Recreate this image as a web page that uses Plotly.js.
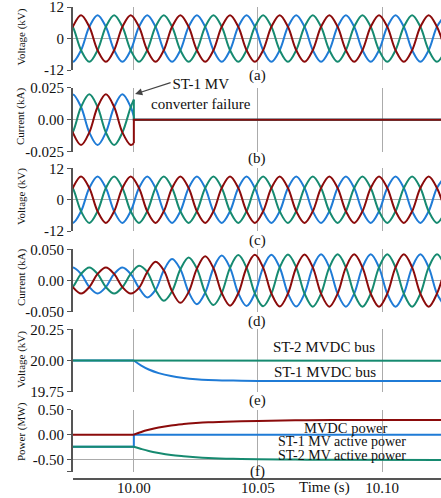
<!DOCTYPE html>
<html>
<head>
<meta charset="utf-8">
<script src="https://cdn.plot.ly/plotly-3.0.1.min.js"></script>
<style>html,body{margin:0;padding:0;background:#fff;}#chart{width:441px;height:498px;}</style>
</head>
<body>
<div id="chart"></div>
<script>
// ---- time grid (s) ----
const tGrid = [9.97207, 9.97540, 9.97874, 9.98207, 9.98540, 9.98874, 9.99207, 9.99540, 9.99874,
  10.00207, 10.00540, 10.00874, 10.01207, 10.01540, 10.01874, 10.02207, 10.02540, 10.02874,
  10.03207, 10.03540, 10.03874, 10.04207, 10.04540, 10.04874, 10.05207, 10.05540, 10.05874,
  10.06207, 10.06540, 10.06874, 10.07207, 10.07540, 10.07874, 10.08207, 10.08540, 10.08874,
  10.09207, 10.09540, 10.09874, 10.10207, 10.10540, 10.10874, 10.11207, 10.11540, 10.11874,
  10.12207, 10.12540];

// ---- (a)/(c) MV voltage (kV) ----
const vRed = [-4.45,4.45,8.9,4.45,-4.45,-8.9, -4.45,4.45,8.9,4.45,-4.45,-8.9, -4.45,4.45,8.9,4.45,-4.45,-8.9,
  -4.45,4.45,8.9,4.45,-4.45,-8.9, -4.45,4.45,8.9,4.45,-4.45,-8.9, -4.45,4.45,8.9,4.45,-4.45,-8.9,
  -4.45,4.45,8.9,4.45,-4.45,-8.9, -4.45,4.45,8.9,4.45,-4.45];
const vBlue = [-4.45,-8.9,-4.45,4.45,8.9,4.45, -4.45,-8.9,-4.45,4.45,8.9,4.45, -4.45,-8.9,-4.45,4.45,8.9,4.45,
  -4.45,-8.9,-4.45,4.45,8.9,4.45, -4.45,-8.9,-4.45,4.45,8.9,4.45, -4.45,-8.9,-4.45,4.45,8.9,4.45,
  -4.45,-8.9,-4.45,4.45,8.9,4.45, -4.45,-8.9,-4.45,4.45,8.9];
const vGreen = [8.9,4.45,-4.45,-8.9,-4.45,4.45, 8.9,4.45,-4.45,-8.9,-4.45,4.45, 8.9,4.45,-4.45,-8.9,-4.45,4.45,
  8.9,4.45,-4.45,-8.9,-4.45,4.45, 8.9,4.45,-4.45,-8.9,-4.45,4.45, 8.9,4.45,-4.45,-8.9,-4.45,4.45,
  8.9,4.45,-4.45,-8.9,-4.45,4.45, 8.9,4.45,-4.45,-8.9,-4.45];

// ---- (b) ST-1 MV current (kA), until failure ----
const tPre = [9.97207, 9.97540, 9.97874, 9.98207, 9.98540, 9.98874, 9.99207, 9.99540, 9.99874, 10.000];
const iBluePre  = [0.0099, 0.0198, 0.0099, -0.0099, -0.0198, -0.0099, 0.0099, 0.0198, 0.0099, 0.0025];
const iGreenPre = [-0.0198, -0.0099, 0.0099, 0.0198, 0.0099, -0.0099, -0.0198, -0.0099, 0.0099, 0.0157];
const iRedPre   = [0.0099, -0.0099, -0.0198, -0.0099, 0.0099, 0.0198, 0.0099, -0.0099, -0.0198, -0.0183];
const tPost = [10.000, 10.000, 10.1254];
const iBluePost  = [0.0025, 0, 0];
const iGreenPost = [0.0157, 0, 0];
const iRedPost   = [-0.0183, 0, 0];

// ---- (d) current (kA) ----
const dBlue = [0.0105,0.021,0.0105,-0.0105,-0.021,-0.0105,0.0105,0.021,0.0105,
  -0.0119,-0.0272,-0.0151,0.0163,0.0343,0.0179,-0.0185,-0.0380,-0.0194,0.0197,0.0399,0.0202,
  -0.0204,-0.0409,-0.0206,0.0207,0.0414,0.0208,-0.0208,-0.0417,-0.0209,0.0210,0.0419,0.0210,
  -0.0210,-0.0419,-0.0210,0.021,0.042,0.021,-0.021,-0.042,-0.021,0.021,0.042,0.021,-0.021,-0.042];
const dGreen = [-0.021,-0.0105,0.0105,0.021,0.0105,-0.0105,-0.021,-0.0105,0.0105,
  0.0237,0.0136,-0.0151,-0.0325,-0.0172,0.0179,0.0370,0.0190,-0.0194,-0.0394,-0.0200,0.0202,
  0.0407,0.0205,-0.0206,-0.0413,-0.0207,0.0208,0.0416,0.0209,-0.0209,-0.0419,-0.0210,0.0210,
  0.0419,0.0210,-0.0210,-0.042,-0.021,0.021,0.042,0.021,-0.021,-0.042,-0.021,0.021,0.042,0.021];
const dRed = [0.0105,-0.0105,-0.021,-0.0105,0.0105,0.021,0.0105,-0.0105,-0.021,
  -0.0119,0.0136,0.0301,0.0163,-0.0172,-0.0358,-0.0185,0.0190,0.0388,0.0197,-0.0200,-0.0403,
  -0.0204,0.0205,0.0411,0.0207,-0.0207,-0.0415,-0.0208,0.0209,0.0418,0.0210,-0.0210,-0.0419,
  -0.0210,0.0210,0.0419,0.021,-0.021,-0.042,-0.021,0.021,0.042,0.021,-0.021,-0.042,-0.021,0.021];

// ---- (e) MVDC bus voltage (kV) ----
const tE = [9.9755, 10.000, 10.003, 10.006, 10.010, 10.015, 10.020, 10.025, 10.030, 10.040, 10.050, 10.065, 10.1254];
const eST1 = [20.000, 20.000, 19.959, 19.928, 19.899, 19.875, 19.860, 19.850, 19.844, 19.839, 19.836, 19.835, 19.835];
const tE2 = [9.9755, 10.000, 10.1254];
const eST2 = [20.000, 20.000, 19.998];

// ---- (f) power (MW) ----
const tF = [9.9755, 10.000, 10.003, 10.006, 10.010, 10.015, 10.020, 10.025, 10.030, 10.040, 10.050, 10.065, 10.080, 10.1254];
const pMVDC = [0, 0, 0.055, 0.098, 0.145, 0.188, 0.215, 0.235, 0.250, 0.268, 0.279, 0.290, 0.296, 0.300];
const pST2  = [-0.245, -0.245, -0.29, -0.33, -0.37, -0.41, -0.435, -0.455, -0.47, -0.488, -0.498, -0.505, -0.51, -0.515];
const tF1 = [9.9755, 10.000, 10.000, 10.1254];
const pST1 = [-0.245, -0.245, 0, 0];

// ---- ticks ----
const xTicks = [10.00, 10.05, 10.10];
const xTickText = ["10.00", "10.05", "10.10"];

const RED = '#8b0b0b', BLUE = '#1f7bd6', GREEN = '#168a70';
const LW = 2;

function tr(x, y, k, color, shape) {
  return {x: x, y: y, xaxis: 'x' + (k === 1 ? '' : k), yaxis: 'y' + (k === 1 ? '' : k),
    type: 'scatter', mode: 'lines', line: {color: color, width: LW, shape: shape || 'linear'},
    hoverinfo: 'skip', showlegend: false};
}
// split a step response at the failure instant (index 1): flat part straight, transient smooth
function stepTr(x, y, k, color) {
  return [tr(x.slice(0, 2), y.slice(0, 2), k, color), tr(x.slice(1), y.slice(1), k, color, 'spline')];
}

const data = [
  tr(tGrid, vBlue, 1, BLUE, 'spline'), tr(tGrid, vGreen, 1, GREEN, 'spline'), tr(tGrid, vRed, 1, RED, 'spline'),
  tr(tPre, iBluePre, 2, BLUE, 'spline'), tr(tPre, iGreenPre, 2, GREEN, 'spline'), tr(tPre, iRedPre, 2, RED, 'spline'),
  tr(tPost, iBluePost, 2, BLUE), tr(tPost, iGreenPost, 2, GREEN), tr(tPost, iRedPost, 2, RED),
  tr(tGrid, vBlue, 3, BLUE, 'spline'), tr(tGrid, vGreen, 3, GREEN, 'spline'), tr(tGrid, vRed, 3, RED, 'spline'),
  tr(tGrid, dBlue, 4, BLUE, 'spline'), tr(tGrid, dGreen, 4, GREEN, 'spline'), tr(tGrid, dRed, 4, RED, 'spline'),
  ...stepTr(tE, eST1, 5, BLUE), tr(tE2, eST2, 5, GREEN),
  tr(tF1, pST1, 6, BLUE), ...stepTr(tF, pST2, 6, GREEN), ...stepTr(tF, pMVDC, 6, RED)
];

const XR = [9.9755, 10.1237];
const FONT = 'Liberation Serif, Times New Roman, serif';
const GRID = '#ababab', AX = '#555555';
const H = 471, T = 7;
function py(px) { return (T + H - px) / H; }

const domains = [[70, 7], [151.7, 87.7], [231, 168.3], [311.7, 249.3], [391.7, 329.3], [471.7, 409.5]];
const yRanges = [[-12, 12], [-0.025, 0.025], [-12, 12], [-0.05, 0.05], [19.75, 20.25], [-0.75, 0.51]];
const yTickVals = [[-12, 0, 12], [-0.025, 0, 0.025], [-12, 0, 12], [-0.05, 0, 0.05], [19.75, 20.0, 20.25], [-0.75, -0.5, 0, 0.5]];
const yTickText = [["-12", "0", "12"], ["-0.025", "0.00", "0.025"], ["-12", "0", "12"], ["-0.050", "0.00", "0.050"],
  ["19.75", "20.00", "20.25"], ["", "-0.50", "0.00", "0.50"]];
const yTitles = ["Voltage (kV)", "Current (kA)", "Voltage (kV)", "Current (kA)", "Voltage (kV)", "Power (MW)"];
const yTitlePx = [37.5, 117, 197, 278, 360, 432];
const panelLabels = ["(a)", "(b)", "(c)", "(d)", "(e)", "(f)"];
const panelLabelPx = [76, 158, 240, 321, 400.7, 471.7];

const layout = {
  width: 441, height: 498,
  margin: {l: 73, r: 0, t: T, b: 498 - T - H},
  paper_bgcolor: '#fff', plot_bgcolor: '#fff',
  showlegend: false, hovermode: false,
  font: {family: FONT, size: 15, color: '#111'},
  annotations: []
};

for (let k = 1; k <= 6; k++) {
  const sfx = k === 1 ? '' : String(k);
  const d = domains[k - 1];
  const xa = {
    range: XR, showgrid: true, gridcolor: GRID, gridwidth: 1, zeroline: false,
    tickmode: 'array', tickvals: xTicks, ticktext: xTickText, ticks: '',
    showticklabels: false, showline: false
  };
  if (k === 6) {
    Object.assign(xa, {anchor: 'free', position: 0, showticklabels: true, showline: true,
      linecolor: AX, linewidth: 1.5, ticklabelstandoff: -5, ticklabeloverflow: 'allow',
      tickfont: {family: FONT, size: 15, color: '#111'}});
  } else {
    xa.anchor = 'y' + sfx;
  }
  layout['xaxis' + sfx] = xa;
  layout['yaxis' + sfx] = {
    anchor: 'x' + sfx, domain: [py(d[0]), py(d[1])], range: yRanges[k - 1],
    tickmode: 'array', tickvals: yTickVals[k - 1], ticktext: yTickText[k - 1],
    showgrid: true, gridcolor: GRID, gridwidth: 1, zeroline: false,
    showline: true, linecolor: AX, linewidth: 2, ticks: 'outside', ticklen: 4, tickcolor: AX,
    ticklabeloverflow: 'allow',
    tickfont: {family: FONT, size: 15, color: '#111'}
  };
  layout.annotations.push({
    xref: 'paper', yref: 'paper', x: (21 - 73) / 368, y: py(yTitlePx[k - 1]), text: yTitles[k - 1],
    textangle: -90, showarrow: false, xanchor: 'center', yanchor: 'middle',
    font: {family: FONT, size: 11, color: '#111'}
  });
  layout.annotations.push({
    xref: 'paper', yref: 'paper', x: (257 - 73) / 368, y: py(panelLabelPx[k - 1]), text: panelLabels[k - 1],
    showarrow: false, xanchor: 'center', yanchor: 'middle', font: {family: FONT, size: 15, color: '#111'}
  });
}

const textNotes = [
  {t: 'ST-2 MVDC bus', x: 324, y: 346.7, s: 15},
  {t: 'ST-1 MVDC bus', x: 325, y: 372.3, s: 15},
  {t: 'MVDC power', x: 346, y: 428.3, s: 14.5},
  {t: 'ST-1 MV active power', x: 341.7, y: 441, s: 14},
  {t: 'ST-2 MV active power', x: 341.7, y: 455, s: 14},
  {t: 'Time (s)', x: 324, y: 487, s: 15}
];
textNotes.forEach(n => layout.annotations.push({
  xref: 'paper', yref: 'paper', x: (n.x - 73) / 368, y: py(n.y), text: n.t, showarrow: false,
  xanchor: 'center', yanchor: 'middle', font: {family: FONT, size: n.s, color: '#111'}
}));

// failure annotation
layout.annotations.push({
  xref: 'paper', yref: 'paper', x: (201 - 73) / 368, y: py(94), text: 'ST-1 MV<br>converter failure',
  showarrow: false, xanchor: 'center', yanchor: 'middle', align: 'center',
  font: {family: FONT, size: 15, color: '#111'}
});
layout.annotations.push({
  xref: 'x2', yref: 'y2', x: 10.0005, y: 0.02, text: '', showarrow: true,
  ax: 37, ay: -12, arrowhead: 2, arrowsize: 1.2, arrowwidth: 1.2, arrowcolor: '#444', standoff: 0
});

Plotly.newPlot('chart', data, layout, {staticPlot: true, displayModeBar: false});
</script>
</body>
</html>
